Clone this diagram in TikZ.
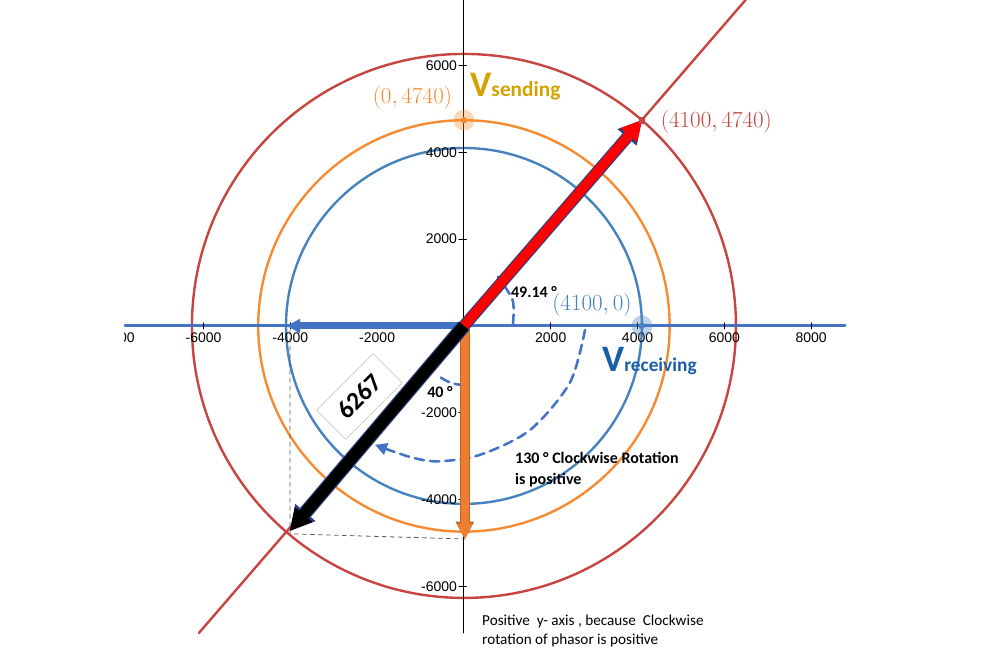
\documentclass[tikz,border=0pt]{standalone}
\usepackage{fontspec}
\newfontfamily\calib{Carlito}
\newfontfamily\arial{Liberation Sans}
\usetikzlibrary{arrows.meta}
\definecolor{cred}{RGB}{199,68,64}
\definecolor{corange}{RGB}{245,140,50}
\definecolor{cblue}{RGB}{70,130,190}
\definecolor{axblue}{RGB}{68,114,196}
\definecolor{phorange}{RGB}{237,125,49}
\definecolor{edge}{RGB}{40,65,130}
\definecolor{vgold}{RGB}{212,162,0}
\definecolor{vblue}{RGB}{25,95,165}
\begin{document}
\begin{tikzpicture}[x=32.55pt, y=32.55pt, font=\arial\fontsize{10.5}{12}\selectfont, line join=round, line cap=round,
    dasharc/.style={axblue, line width=1.9pt, dash pattern=on 7pt off 4.5pt},
    anglabel/.style={font=\calib\bfseries\fontsize{12}{15.75}\selectfont, inner sep=0pt, align=left},
    coordlabel/.style={font=\fontsize{16}{16}\selectfont, inner sep=0pt}]
  \useasboundingbox (-10.69,-7.60) rectangle (12.19,7.51);
  \coordinate (O) at (0,0);
  \coordinate (S) at (0,4.74);
  \coordinate (R) at (4.1,0);
  \coordinate (P) at (4.1,4.74);
  \coordinate (Q) at (-4.01,-4.72);
  \coordinate (B) at (-4.08,0);
  \coordinate (D0) at (0.02,-0.05);
  \coordinate (D) at (0.02,-4.91);
  \coordinate (L1) at (-6.106,-7.074);
  \coordinate (L2) at (6.49,7.512);
  % circles and the line through the origin
  \draw[cblue, line width=1.8pt] (O) circle (4.1);
  \draw[corange, line width=1.8pt] (O) circle (4.74);
  \draw[cred, line width=1.8pt] (O) circle (6.267);
  \draw[cred, line width=1.8pt] (L1) -- (L2);
  % axes
  \draw[line width=0.8pt] (0,7.512) -- (0,-7.07);
  \draw[axblue, line width=2.2pt] (-7.81,0) -- (8.78,0);
  \foreach \x in {-6,-4,-2,2,4,6,8}{
    \pgfmathtruncatemacro{\v}{1000*\x}
    \draw[line width=0.6pt] (\x,0.07) -- (\x,-0.07);
    \node[anchor=north, inner sep=0pt] (xl\x) at (\x,-0.16) {\v};
  }
  \begin{scope}
    \clip (-7.81,-1) rectangle (-6.5,0);
    \node[anchor=north, inner sep=0pt] (xl8) at (-8,-0.16) {-8000};
  \end{scope}
  \foreach \y in {-6,-4,-2,2,4,6}{
    \pgfmathtruncatemacro{\v}{1000*\y}
    \draw[line width=0.6pt] (0.06,\y) -- (-0.12,\y) node[left, inner sep=1pt] (yl\y) {\v};
  }
  % projections
  \draw[dashed, line width=0.6pt, black!65] (-4.01,-0.1) -- (-4.01,-4.79) -- (0.02,-4.91);
  % angle arcs
  \draw[dasharc] plot[smooth] coordinates {(1.13,0.05) (1.12,0.6) (0.78,1.13)};
  \draw[dasharc] (0,-1.36) arc[start angle=-90, end angle=-125, x radius=1.1, y radius=1.36];
  \draw[dasharc, -{Triangle[length=9pt,width=9pt]}] plot[smooth] coordinates {(2.79,-0.09) (2.44,-1.31) (1.52,-2.40) (0.37,-2.97) (-0.6,-3.12) (-1.24,-3.02) (-2.05,-2.74)};
  % phasors
  \draw[axblue, line width=5.25pt, line cap=butt, -{Triangle[length=10pt,width=11pt,line width=0pt]}] (O) -- (B);
  \draw[phorange!80!black, line width=7.2pt, line cap=butt, -{Triangle[length=13pt,width=14pt,line width=0pt]}] (D0) -- (D);
  \draw[phorange, line width=5.7pt, line cap=butt, -{Triangle[length=11.5pt,width=12pt,line width=0pt]}] (D0) -- (D);
  \draw[edge, line width=9pt, line cap=butt, -{Triangle[length=17pt,width=19pt,line width=0pt]}] (O) -- (P);
  \draw[red, line width=7.2pt, line cap=butt, -{Triangle[length=15pt,width=16.5pt,line width=0pt]}] (O) -- (P);
  \draw[edge, line width=10.5pt, line cap=butt, -{Triangle[length=18pt,width=20pt,line width=0pt]}] (O) -- (Q);
  \draw[black, line width=8.7pt, line cap=butt, -{Triangle[length=16pt,width=17.5pt,line width=0pt]}] (O) -- (Q);
  % points
  \fill[corange, opacity=0.35] (S) circle (0.24);
  \fill[corange] (S) circle (0.075);
  \fill[cblue, opacity=0.35] (R) circle (0.24);
  \fill[cblue] (R) circle (0.075);
  \node[fill=cred, inner sep=0pt, minimum size=5pt] (Pd) at (P) {};
  % labels
  \node[coordlabel, text=corange] (Sl) at (-1.187,5.25) {$(0,4740)$};
  \node[coordlabel, text=cred] (Pl) at (5.818,4.70) {$(4100,4740)$};
  \node[coordlabel, text=cblue] (Rl) at (2.949,0.484) {$(4100,0)$};
  \node[anchor=base west, inner sep=0pt, text=vgold, font=\calib\bfseries] (Vs) at (0.138,5.288) {{\fontsize{27}{27}\selectfont V}{\fontsize{16}{16}\selectfont sending}};
  \node[anchor=base west, inner sep=0pt, text=vblue, font=\calib\bfseries] (Vr) at (3.18,-1.06) {{\fontsize{28}{28}\selectfont V}{\fontsize{14.5}{14.5}\selectfont receiving}};
  \node[anglabel] (a49) at (1.613,0.783) {49.14 °};
  \node[anglabel] (a40) at (-0.553,-1.521) {40 °};
  \node[anglabel, anchor=west] (a130) at (1.175,-3.306) {130 ° Clockwise Rotation\\is positive};
  \node[anchor=west, inner sep=0pt, align=left, font=\calib\fontsize{11.4}{14.25}\selectfont] (note) at (0.415,-7.03) {Positive\ \ y- axis , because\ \ Clockwise\\rotation of phasor is positive};
  \node[draw=black!25, rotate=45, minimum width=60pt, minimum height=31pt, inner sep=0pt, font=\calib\bfseries\fontsize{19}{19}\selectfont] (len) at (-2.408,-1.624) {6267};
\end{tikzpicture}
\end{document}
